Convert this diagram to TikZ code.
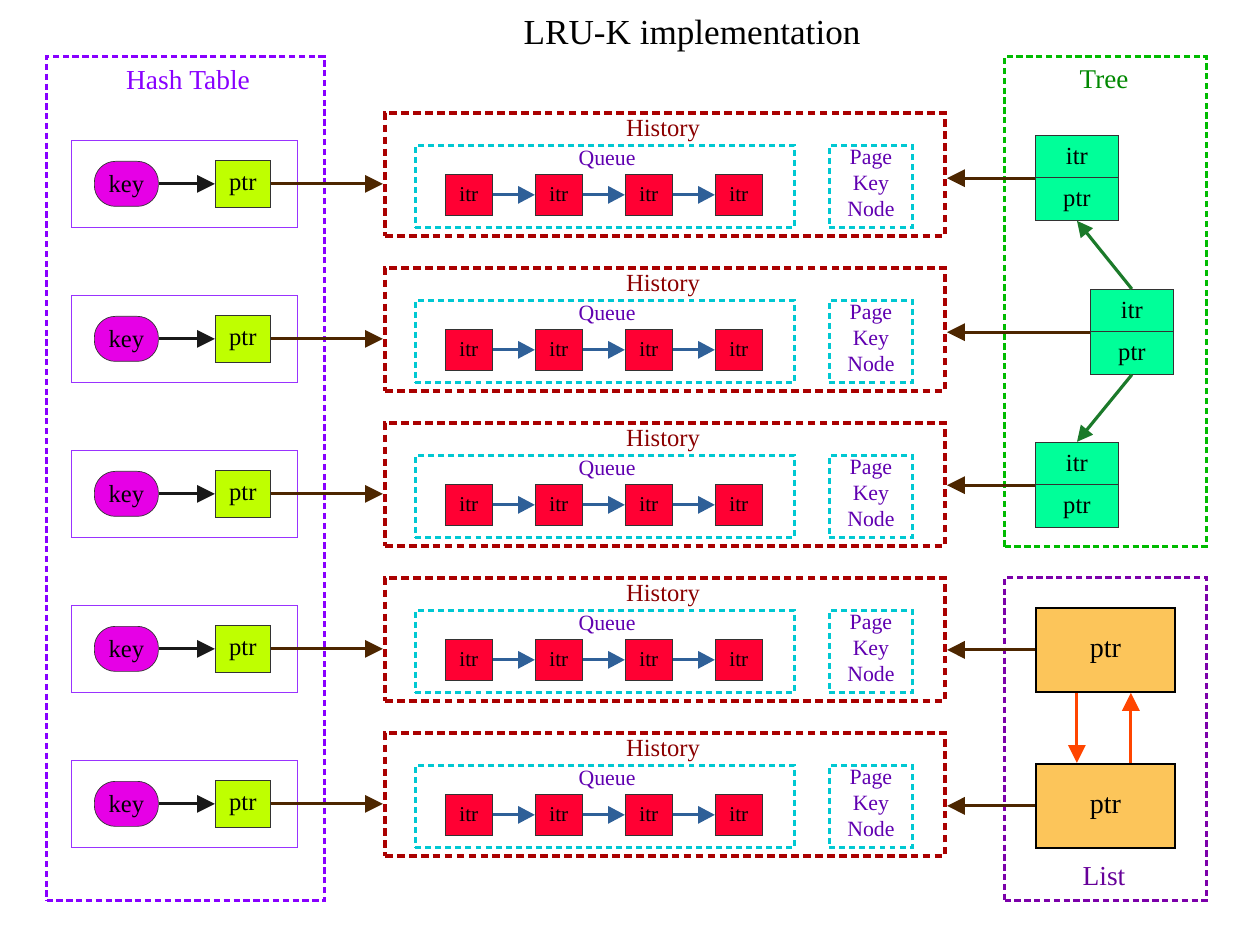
\documentclass[tikz,border=0pt]{standalone}
\usepackage{fontspec}
\setmainfont{Liberation Serif}
\usepackage{tikz}
\usetikzlibrary{arrows.meta,positioning}
\usepackage{xcolor}
\definecolor{hashpurple}{HTML}{8800FF}
\definecolor{rowpurple}{HTML}{9933FF}
\definecolor{keypink}{HTML}{E600E6}
\definecolor{ptrlime}{HTML}{BFFF00}
\definecolor{brown}{HTML}{4D2600}
\definecolor{histred}{HTML}{AA0000}
\definecolor{histtext}{HTML}{8B0000}
\definecolor{queuecyan}{HTML}{00C8D2}
\definecolor{queuetext}{HTML}{6000B0}
\definecolor{itrred}{HTML}{FF0033}
\definecolor{qblue}{HTML}{2F6098}
\definecolor{treegreen}{HTML}{00BB00}
\definecolor{treetext}{HTML}{008800}
\definecolor{treefill}{HTML}{00FF99}
\definecolor{treearrow}{HTML}{1B7A2A}
\definecolor{listpurple}{HTML}{7B00AA}
\definecolor{listtext}{HTML}{660099}
\definecolor{listfill}{HTML}{FCC55A}
\definecolor{listarrow}{HTML}{FF4500}

% one row of the hash table
\newcommand{\hashrow}[2]{
  \begin{scope}[shift={(0,#2)}]
    \node[anchor=north west, rowbox] (hash-row-#1) at (1.42, -2.8) {};
    \node[anchor=north west, keynode] (hash-key-#1) at (1.88, -3.22) {key};
    \node[anchor=north west, ptrnode] (hash-ptr-#1) at (4.3, -3.2) {ptr};
    \draw[blackarrow] (hash-key-#1) -- (hash-ptr-#1);
  \end{scope}
}

% one history block
\newcommand{\histrow}[2]{
  \begin{scope}[shift={(0,#2)}]
    \node[anchor=north west, histbox] (hist-#1) at (7.66, -2.22) {};
    \node[histtitle] (hist-title-#1) at (13.26, -2.62) {History};
    \node[anchor=north west, queuebox] (queue-#1) at (8.28, -2.88) {};
    \node[queuetitle] (queue-title-#1) at (12.14, -3.2) {Queue};
    \node[anchor=north west, itrnode] (itr-#1-a) at (8.9, -3.48) {itr};
    \node[anchor=north west, itrnode] (itr-#1-b) at (10.7, -3.48) {itr};
    \node[anchor=north west, itrnode] (itr-#1-c) at (12.5, -3.48) {itr};
    \node[anchor=north west, itrnode] (itr-#1-d) at (14.3, -3.48) {itr};
    \draw[bluearrow] (itr-#1-a) -- (itr-#1-b);
    \draw[bluearrow] (itr-#1-b) -- (itr-#1-c);
    \draw[bluearrow] (itr-#1-c) -- (itr-#1-d);
    \node[anchor=north west, queuebox, minimum width=1.66cm] (pkn-#1) at (16.56, -2.88) {};
    \node[queuetitle, align=center] (pkn-text-#1) at ([yshift=0.05cm]pkn-#1) {Page\\Key\\Node};
  \end{scope}
}

\begin{document}
\begin{tikzpicture}[
  outerbox/.style={
    rectangle,
    line width=1.8pt,
    dash pattern=on 3.6pt off 2pt,
    minimum width=4.04cm
  },
  rowbox/.style={
    rectangle,
    draw=rowpurple,
    line width=0.6pt,
    minimum width=4.52cm,
    minimum height=1.74cm
  },
  keynode/.style={
    rectangle,
    rounded corners=0.42cm,
    draw=black!80,
    fill=keypink,
    minimum width=1.28cm,
    minimum height=0.9cm,
    text depth=0pt,
    font=\fontsize{14}{16}\selectfont
  },
  ptrnode/.style={
    rectangle,
    draw=black!80,
    fill=ptrlime,
    minimum width=1.1cm,
    minimum height=0.94cm,
    text depth=0pt,
    font=\fontsize{14}{16}\selectfont
  },
  histbox/.style={
    rectangle,
    draw=histred,
    line width=2.2pt,
    dash pattern=on 4.4pt off 2.4pt,
    minimum width=11.2cm,
    minimum height=2.46cm
  },
  histtitle/.style={
    font=\fontsize{14}{16}\selectfont,
    text=histtext
  },
  queuebox/.style={
    rectangle,
    draw=queuecyan,
    line width=1.6pt,
    dash pattern=on 3.4pt off 2.3pt,
    minimum width=7.58cm,
    minimum height=1.64cm
  },
  queuetitle/.style={
    font=\fontsize{12.4}{14.8}\selectfont,
    text=queuetext
  },
  itrnode/.style={
    rectangle,
    draw=black!80,
    fill=itrred,
    minimum width=0.94cm,
    minimum height=0.82cm,
    text depth=0pt,
    font=\fontsize{12}{14}\selectfont
  },
  treenode/.style={
    rectangle,
    draw=black!80,
    fill=treefill,
    minimum width=1.66cm,
    minimum height=0.85cm,
    text depth=0pt,
    font=\fontsize{14}{16}\selectfont
  },
  listnode/.style={
    rectangle,
    draw=black,
    line width=1pt,
    fill=listfill,
    minimum width=2.78cm,
    minimum height=1.68cm,
    text depth=0pt,
    font=\fontsize{16}{18}\selectfont
  },
  blackarrow/.style={line width=1.8pt, black!90, -{Triangle[length=3.6mm, width=3.4mm]}},
  brownarrow/.style={line width=1.8pt, brown, -{Triangle[length=3.6mm, width=3.4mm]}},
  bluearrow/.style={line width=1.8pt, qblue, -{Triangle[length=3.4mm, width=3.4mm]}},
  greenarrow/.style={line width=1.8pt, treearrow, -{Triangle[length=3.2mm, width=3mm]}},
  orangearrow/.style={line width=1.8pt, listarrow, -{Triangle[length=3.6mm, width=3.4mm]}}
  ]

  \useasboundingbox (0,0) rectangle (25,-18.66);

  \node[font=\fontsize{20}{24}\selectfont] (title) at (13.84, -0.72) {LRU-K implementation};

  % hash table
  \begin{scope}
    \node[anchor=north west, outerbox, draw=hashpurple, minimum width=5.56cm, minimum height=16.88cm] (hash) at (0.9, -1.1) {};
    \node[font=\fontsize{15.6}{18}\selectfont, text=hashpurple] (hash-title) at (3.76, -1.6) {Hash Table};
    \hashrow{1}{0}
    \hashrow{2}{-3.1}
    \hashrow{3}{-6.2}
    \hashrow{4}{-9.3}
    \hashrow{5}{-12.4}
  \end{scope}

  % histories
  \histrow{1}{0}
  \histrow{2}{-3.1}
  \histrow{3}{-6.2}
  \histrow{4}{-9.3}
  \histrow{5}{-12.4}

  % tree
  \begin{scope}
    \node[anchor=north west, outerbox, draw=treegreen, minimum height=9.8cm] (tree) at (20.06, -1.1) {};
    \node[font=\fontsize{15.4}{18}\selectfont, text=treetext] (tree-title) at (22.08, -1.6) {Tree};

    \node[anchor=north west, treenode] (tree-1-itr) at (20.7, -2.7) {itr};
    \node[anchor=north west, treenode] (tree-1-ptr) at (20.7, -3.55) {ptr};
    \node[anchor=north west, treenode] (tree-2-itr) at (21.8, -5.78) {itr};
    \node[anchor=north west, treenode] (tree-2-ptr) at (21.8, -6.63) {ptr};
    \node[anchor=north west, treenode] (tree-3-itr) at (20.7, -8.84) {itr};
    \node[anchor=north west, treenode] (tree-3-ptr) at (20.7, -9.69) {ptr};
  \end{scope}

  % list
  \begin{scope}
    \node[anchor=north west, outerbox, draw=listpurple, minimum height=6.46cm] (list) at (20.06, -11.52) {};
    \node[font=\fontsize{15.6}{18}\selectfont, text=listtext] (list-title) at (22.08, -17.54) {List};

    \node[anchor=north west, listnode] (list-1) at (20.7, -12.14) {ptr};
    \node[anchor=north west, listnode] (list-2) at (20.7, -15.26) {ptr};
  \end{scope}

  % hash -> history
  \draw[brownarrow] (hash-ptr-1.east) -- (hash-ptr-1 -| hist-1.west);
  \draw[brownarrow] (hash-ptr-2.east) -- (hash-ptr-2 -| hist-2.west);
  \draw[brownarrow] (hash-ptr-3.east) -- (hash-ptr-3 -| hist-3.west);
  \draw[brownarrow] (hash-ptr-4.east) -- (hash-ptr-4 -| hist-4.west);
  \draw[brownarrow] (hash-ptr-5.east) -- (hash-ptr-5 -| hist-5.west);

  % tree -> history
  \draw[brownarrow] (tree-1-itr.south west) -- (tree-1-itr.south west -| hist-1.east);
  \draw[brownarrow] (tree-2-itr.south west) -- (tree-2-itr.south west -| hist-2.east);
  \draw[brownarrow] (tree-3-itr.south west) -- (tree-3-itr.south west -| hist-3.east);
  \draw[greenarrow] (tree-2-itr.north) -- (tree-1-ptr.south);
  \draw[greenarrow] (tree-2-ptr.south) -- (tree-3-itr.north);

  % list -> history
  \draw[brownarrow] (list-1.west) -- (list-1.west -| hist-4.east);
  \draw[brownarrow] (list-2.west) -- (list-2.west -| hist-5.east);
  \draw[orangearrow] ([xshift=-0.57cm]list-1.south) -- ([xshift=-0.57cm]list-2.north);
  \draw[orangearrow] ([xshift=0.51cm]list-2.north) -- ([xshift=0.51cm]list-1.south);

\end{tikzpicture}
\end{document}
